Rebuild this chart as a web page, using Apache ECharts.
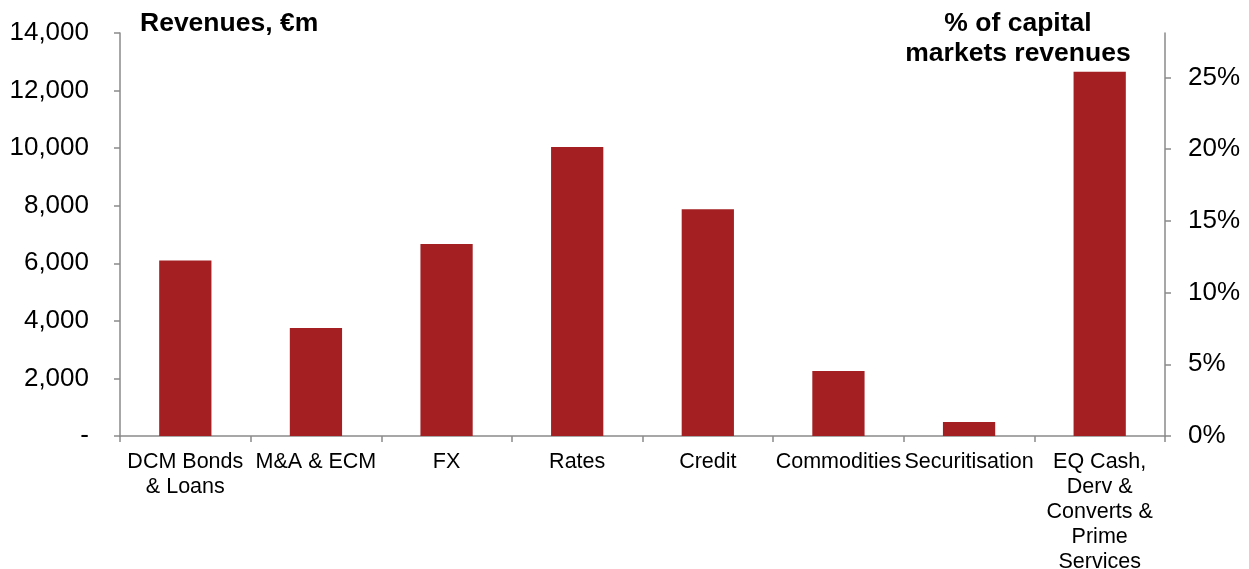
<!DOCTYPE html>
<html>
<head>
<meta charset="utf-8">
<script src="https://cdn.jsdelivr.net/npm/echarts@6/dist/echarts.min.js"></script>
<style>
  html, body { margin: 0; padding: 0; background: #fff; }
  #main { width: 1249px; height: 569px; }
</style>
</head>
<body>
<div id="main"></div>
<script>
    var categories = ['DCM Bonds\n& Loans', 'M&A & ECM', 'FX', 'Rates', 'Credit', 'Commodities', 'Securitisation',
        'EQ Cash,\nDerv &\nConverts &\nPrime\nServices'];
    var revenues = [6100, 3750, 6670, 10040, 7880, 2260, 490, 12650];
    var leftTicks = [0, 2000, 4000, 6000, 8000, 10000, 12000, 14000];
    var rightTicks = [0, 5, 10, 15, 20, 25];

    var total = revenues.reduce(function (a, b) { return a + b; }, 0);
    var leftMax = leftTicks[leftTicks.length - 1];
    var rightMax = leftMax / total * 100;

    var axisGrey = '#8a8a8a';
    var font = 'Liberation Sans, Arial, sans-serif';

    var myChart = echarts.init(document.getElementById('main'));
    var option = {
        animation: false,
        textStyle: { fontFamily: font },
        grid: {
            left: 120,
            right: 84,
            top: 33,
            bottom: 133,
            outerBoundsMode: 'none'
        },
        graphic: [
            {
                type: 'text',
                left: 140,
                top: 10,
                style: { text: 'Revenues, €m', font: 'bold 26.5px ' + font, fill: '#000' }
            },
            {
                type: 'text',
                x: 1018,
                y: 9,
                style: {
                    text: '% of capital\nmarkets revenues', font: 'bold 26.5px ' + font, fill: '#000',
                    textAlign: 'center', lineHeight: 30
                }
            }
        ],
        xAxis: {
            type: 'category',
            data: categories,
            axisLine: { lineStyle: { color: axisGrey, width: 1.5 } },
            axisTick: { show: true, length: 6, lineStyle: { color: axisGrey, width: 1.5 } },
            axisLabel: { color: '#000', fontSize: 21.5, lineHeight: 25, margin: 14, interval: 0, fontFamily: font }
        },
        yAxis: [
            {
                type: 'value',
                min: 0,
                max: leftMax,
                interval: 2000,
                splitLine: { show: false },
                axisLine: { show: true, lineStyle: { color: axisGrey, width: 1.5 } },
                axisTick: { show: true, length: 6, lineStyle: { color: axisGrey, width: 1.5 } },
                axisLabel: {
                    color: '#000', fontSize: 26, margin: 31, fontFamily: font,
                    formatter: function (v) { return v === 0 ? '-' : v.toLocaleString('en-US'); }
                }
            },
            {
                type: 'value',
                min: 0,
                max: rightMax,
                position: 'right',
                splitLine: { show: false },
                axisLine: { show: true, lineStyle: { color: axisGrey, width: 1.5 } },
                axisTick: { show: true, length: 6, customValues: rightTicks, lineStyle: { color: axisGrey, width: 1.5 } },
                axisLabel: {
                    color: '#000', fontSize: 26, margin: 23, fontFamily: font,
                    customValues: rightTicks,
                    formatter: function (v) { return Math.round(v) + '%'; }
                }
            }
        ],
        series: [{
            name: 'Revenues',
            type: 'bar',
            yAxisIndex: 0,
            barWidth: '40%',
            itemStyle: { color: '#A31F22' },
            data: revenues
        }]
    };
    myChart.setOption(option);
</script>
</body>
</html>
